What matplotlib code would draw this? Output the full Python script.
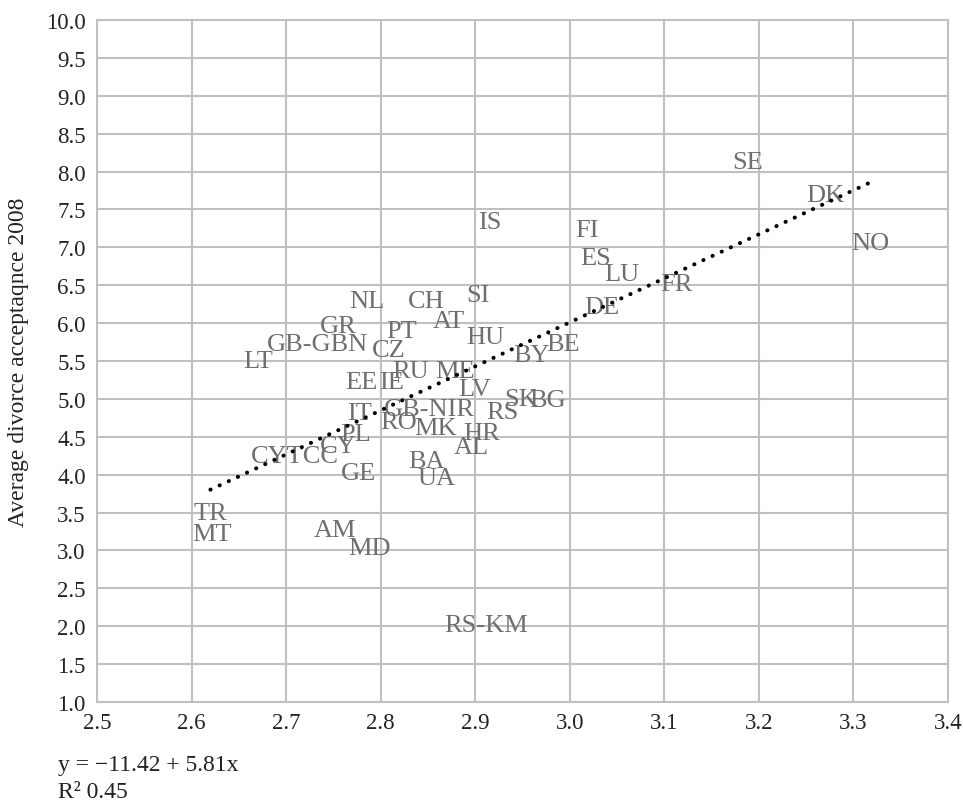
import matplotlib
matplotlib.use('Agg')
import matplotlib.pyplot as plt
import numpy as np

# country codes and values
codes = ['SE', 'DK', 'NO', 'IS', 'FI', 'ES', 'LU', 'FR', 'DE', 'NL', 'CH', 'SI',
         'AT', 'GR', 'PT', 'GB-GBN', 'CZ', 'HU', 'BE', 'BY', 'LT', 'RU', 'ME',
         'EE', 'IE', 'LV', 'SK', 'BG', 'IT', 'GB-NIR', 'RS', 'RO', 'MK', 'HR',
         'PL', 'AL', 'CYTCC', 'CY', 'GE', 'BA', 'UA', 'TR', 'MT', 'AM', 'MD', 'RS-KM']
x_vals = [3.188, 3.270, 3.318, 2.915, 3.018, 3.027, 3.055, 3.113, 3.034, 2.785, 2.848, 2.903,
          2.872, 2.755, 2.822, 2.733, 2.809, 2.911, 2.993, 2.959, 2.670, 2.832, 2.879,
          2.780, 2.812, 2.899, 2.949, 2.977, 2.778, 2.852, 2.929, 2.819, 2.858, 2.907,
          2.774, 2.896, 2.709, 2.755, 2.777, 2.848, 2.859, 2.620, 2.622, 2.752, 2.788, 2.912]
y_vals = [8.13, 7.69, 7.06, 7.34, 7.23, 6.86, 6.65, 6.52, 6.21, 6.29, 6.29, 6.37,
          6.03, 5.96, 5.90, 5.73, 5.65, 5.82, 5.73, 5.58, 5.50, 5.37, 5.37,
          5.22, 5.22, 5.13, 5.00, 4.99, 4.82, 4.87, 4.83, 4.70, 4.62, 4.55,
          4.54, 4.37, 4.25, 4.38, 4.02, 4.18, 3.96, 3.50, 3.22, 3.27, 3.03, 2.02]

intercept = -11.42
slope = 5.81
r_squared = 0.45

plt.rcParams['font.family'] = ['Liberation Serif', 'DejaVu Serif']

fig = plt.figure(figsize=(9.63, 8.04), dpi=100)
ax = fig.add_axes([0.1007, 0.1256, 0.8837, 0.8483])

grid_c = '#c0c0c0'
label_c = '#6f6f6f'
text_c = '#222222'

for xv, yv, c in zip(x_vals, y_vals, codes):
    ax.text(xv, yv, c, ha='center', va='center', fontsize=19, color=label_c, zorder=3)

# linear trend line over the data range
xt = np.linspace(min(x_vals), max(x_vals), 200)
ax.plot(xt, intercept + slope * xt, color='black', lw=2.9,
        linestyle=(0, (0.05, 2.45)), dash_capstyle='round', zorder=4)

ax.set_xlim(2.5, 3.4)
ax.set_ylim(1.0, 10.0)
ax.set_xticks(np.arange(2.5, 3.41, 0.1))
ax.set_yticks(np.arange(1.0, 10.01, 0.5))
ax.xaxis.set_major_formatter(matplotlib.ticker.FormatStrFormatter('%.1f'))
ax.yaxis.set_major_formatter(matplotlib.ticker.FormatStrFormatter('%.1f'))
ax.tick_params(length=0, labelsize=16.5, colors=text_c)
ax.tick_params(axis='y', pad=8)
ax.tick_params(axis='x', pad=7)
ax.grid(True, color=grid_c, lw=1.5)
ax.set_axisbelow(True)
for s in ax.spines.values():
    s.set_color(grid_c)
    s.set_linewidth(1.5)

ax.set_ylabel('Average divorce acceptaqnce 2008', fontsize=17, color=text_c, labelpad=12)

fig.text(0.060, 0.041, f'y = \u221211.42 + {slope:.2f}x', fontsize=17, color=text_c, va='baseline')
fig.text(0.060, 0.007, f'R\u00b2 {r_squared:.2f}', fontsize=17, color=text_c, va='baseline')

fig.savefig('out.png', dpi=100)
